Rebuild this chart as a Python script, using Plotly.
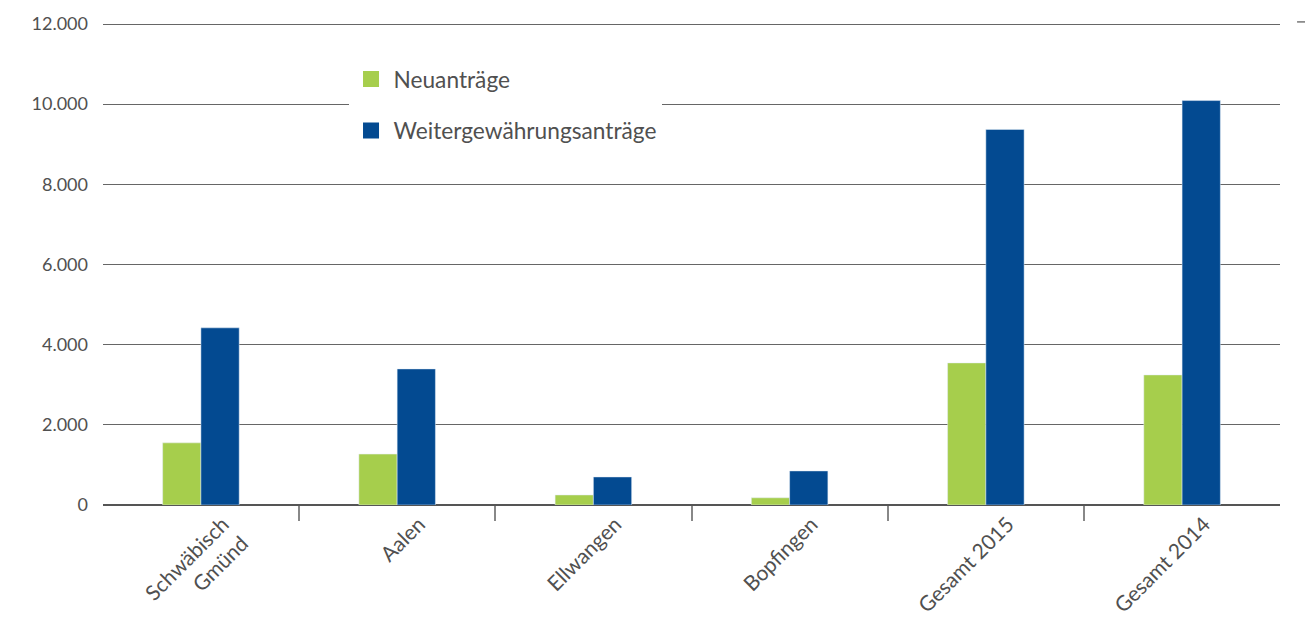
import plotly.graph_objects as go

# Daten
kategorien = ['Schwäbisch<br>Gmünd', 'Aalen', 'Ellwangen', 'Bopfingen', 'Gesamt 2015', 'Gesamt 2014']
neuantraege = [1550, 1270, 250, 180, 3545, 3245]
weitergewaehrung = [4420, 3395, 700, 850, 9370, 10090]
y_ticks = [0, 2000, 4000, 6000, 8000, 10000, 12000]

GRUEN = '#A6CE4C'
BLAU = '#034A91'
FONT = 'Lato, Open Sans, sans-serif'

fig = go.Figure()

fig.add_trace(go.Bar(x=kategorien, y=neuantraege, name='Neuanträge',
                     marker_color=GRUEN, showlegend=False))
fig.add_trace(go.Bar(x=kategorien, y=weitergewaehrung, name='Weitergewährungsanträge',
                     marker_color=BLAU, showlegend=False))

# Legendeneinträge mit größeren Quadraten
fig.add_trace(go.Scatter(x=[None], y=[None], mode='markers', name='Neuanträge',
                         legendgroup='a',
                         marker=dict(symbol='square', size=18, color=GRUEN)))
fig.add_trace(go.Scatter(x=[None], y=[None], mode='markers', name='Weitergewährungsanträge',
                         legendgroup='b',
                         marker=dict(symbol='square', size=18, color=BLAU)))

# body-Rand der Seite (8px) ausgleichen
fig.update_layout(
    width=1313, height=624,
    margin=dict(l=95, r=41, t=12, b=127),
    paper_bgcolor='white', plot_bgcolor='white',
    font=dict(family=FONT, size=20, color='#505050'),
    separators=',.',
    barmode='group', bargap=0.61, bargroupgap=0,
    legend=dict(x=0.2086, y=0.922, xanchor='left', yanchor='top',
                bgcolor='white', borderwidth=0,
                traceorder='grouped', tracegroupgap=19,
                font=dict(size=22.7, color='#505050'),
                itemsizing='trace', itemwidth=35),
)

fig.update_xaxes(
    type='category', automargin=False, range=[-0.499, 5.499],
    tickson='boundaries', ticks='outside', ticklen=15, tickwidth=1.5, tickcolor='#888',
    tickangle=-45, ticklabelshift=22, ticklabelstandoff=2,
    tickfont=dict(size=21, color='#505050'),
    showgrid=False, showline=False, zeroline=False,
)
fig.update_yaxes(
    range=[0, 12100], tickvals=y_ticks, tickformat=',d', automargin=False,
    showgrid=True, gridcolor='#666', gridwidth=1,
    zeroline=True, zerolinecolor='#555', zerolinewidth=1.5,
    showline=False, ticks='', ticklabelstandoff=14,
    tickfont=dict(size=18, color='#505050'),
)

# kleiner Strich rechts oben
fig.add_shape(type='line', xref='paper', yref='paper',
              x0=1.0145, x1=1.028, y0=0.996, y1=0.996,
              line=dict(color='#333', width=1))

fig.write_html('out.html')
